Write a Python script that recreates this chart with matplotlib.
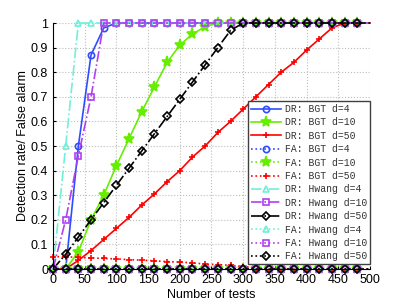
import matplotlib
matplotlib.use('Agg')
import matplotlib.pyplot as plt
import numpy as np

plt.rcParams['font.family'] = ['Liberation Sans', 'DejaVu Sans']

# number of tests (markers every 20, line runs to 500)
tests = list(range(0, 501, 20))

# detection rate, BGT
dr_bgt_4 = [0, 0, 0.50, 0.87, 0.98, 1, 1, 1, 1, 1, 1, 1, 1, 1, 1, 1, 1, 1, 1, 1, 1, 1, 1, 1, 1, 1]
dr_bgt_10 = [0, 0, 0.07, 0.20, 0.30, 0.42, 0.53, 0.64, 0.74, 0.84, 0.91, 0.955, 0.985, 1, 1, 1,
             1, 1, 1, 1, 1, 1, 1, 1, 1, 1]
dr_bgt_50 = [0, 0, 0.035, 0.075, 0.12, 0.165, 0.21, 0.26, 0.305, 0.355, 0.40, 0.455, 0.50, 0.555,
             0.60, 0.65, 0.70, 0.75, 0.80, 0.84, 0.89, 0.935, 0.98, 1, 1, 1]
# false alarm, BGT
fa_bgt_4 = [0] * 26
fa_bgt_10 = [0] * 26
fa_bgt_50 = [0.05, 0.05, 0.047, 0.045, 0.043, 0.041, 0.038, 0.036, 0.033, 0.03, 0.028, 0.025,
             0.02, 0.018, 0.015, 0.01, 0.005, 0, 0, 0, 0, 0, 0, 0, 0, 0]
# detection rate, Hwang
dr_hw_4 = [0, 0.5, 1, 1, 1, 1, 1, 1, 1, 1, 1, 1, 1, 1, 1, 1, 1, 1, 1, 1, 1, 1, 1, 1, 1, 1]
dr_hw_10 = [0, 0.2, 0.46, 0.70, 1, 1, 1, 1, 1, 1, 1, 1, 1, 1, 1, 1, 1, 1, 1, 1, 1, 1, 1, 1, 1, 1]
dr_hw_50 = [0, 0.06, 0.13, 0.20, 0.27, 0.34, 0.41, 0.48, 0.55, 0.62, 0.69, 0.76, 0.83, 0.90,
            0.97, 1, 1, 1, 1, 1, 1, 1, 1, 1, 1, 1]
# false alarm, Hwang
fa_hw_4 = [0] * 26
fa_hw_10 = [0] * 26
fa_hw_50 = [0] * 26

blue = '#2f4cff'
green = '#66ee00'
red = '#ff0000'
cyan = '#70f0d8'
purple = '#b040f0'
black = 'black'

series = [
    (dr_bgt_4, blue, '-', 'o', 4.5, 'none', 'DR: BGT d=4'),
    (dr_bgt_10, green, '-', '*', 8, green, 'DR: BGT d=10'),
    (dr_bgt_50, red, '-', '+', 5, red, 'DR: BGT d=50'),
    (fa_bgt_4, blue, ':', 'o', 4.5, 'none', 'FA: BGT d=4'),
    (fa_bgt_10, green, ':', '*', 8, green, 'FA: BGT d=10'),
    (fa_bgt_50, red, ':', '+', 5, red, 'FA: BGT d=50'),
    (dr_hw_4, cyan, '-.', '^', 4.5, 'none', 'DR: Hwang d=4'),
    (dr_hw_10, purple, '-.', 's', 4, 'none', 'DR: Hwang d=10'),
    (dr_hw_50, black, '-.', 'D', 4, 'none', 'DR: Hwang d=50'),
    (fa_hw_4, cyan, ':', '^', 4.5, 'none', 'FA: Hwang d=4'),
    (fa_hw_10, purple, ':', 's', 4, 'none', 'FA: Hwang d=10'),
    (fa_hw_50, black, ':', 'D', 4, 'none', 'FA: Hwang d=50'),
]

fig = plt.figure(figsize=(4.09, 3.04), dpi=100)
ax = fig.add_axes([0.1296, 0.1151, 0.7750, 0.8092])

for vals, c, ls, mk, ms, mfc, lab in series:
    ax.plot(tests, vals, color=c, linestyle=ls, marker=mk, markersize=ms,
            markerfacecolor=mfc, markeredgecolor=c, markeredgewidth=1.2,
            linewidth=1.2, markevery=slice(0, -1), label=lab, clip_on=False)

ax.set_xlim(0, 500)
ax.set_ylim(0, 1)
ax.set_xticks(range(0, 501, 50))
yt = np.arange(0, 1.01, 0.1)
ax.set_yticks(yt)
ax.set_yticklabels(['0'] + ['%.1f' % v for v in yt[1:-1]] + ['1'])
ax.tick_params(direction='in', length=2, labelsize=9)
for s in ['top', 'right']:
    ax.spines[s].set_visible(False)
ax.grid(True, linestyle=':', color='#bdbdbd', linewidth=0.8)
ax.set_axisbelow(True)
ax.set_xlabel('Number of tests', fontsize=9, labelpad=2)
ax.set_ylabel('Detection rate/ False alarm', fontsize=9, labelpad=1)

leg = ax.legend(loc='upper right', bbox_to_anchor=(1.0, 0.683), fancybox=False,
                framealpha=1, edgecolor='#404040', handlelength=3.1,
                labelspacing=0.35, borderpad=0.3, handletextpad=0.4, borderaxespad=0,
                prop={'family': 'Liberation Mono', 'size': 7})
leg.get_frame().set_linewidth(1.0)
for t in leg.get_texts():
    t.set_color('#333333')

plt.savefig('out.png', dpi=100)
